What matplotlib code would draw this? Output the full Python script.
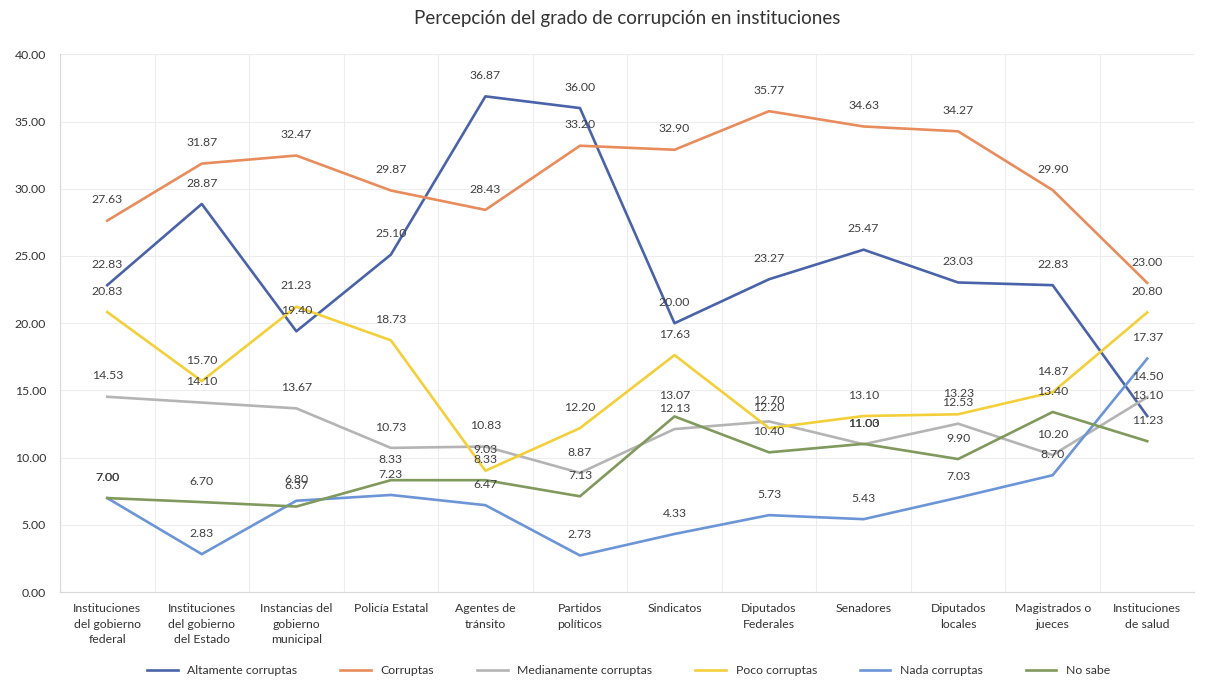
import numpy as np
import matplotlib
matplotlib.use("Agg")
from matplotlib import pyplot as plt

plt.rcParams['font.family'] = ['Lato', 'DejaVu Sans']

categorias = ["Instituciones\ndel gobierno\nfederal", "Instituciones\ndel gobierno\ndel Estado",
              "Instancias del\ngobierno\nmunicipal", "Policía Estatal", "Agentes de\ntránsito",
              "Partidos\npolíticos", "Sindicatos", "Diputados\nFederales", "Senadores",
              "Diputados\nlocales", "Magistrados o\njueces", "Instituciones\nde salud"]

altamente = [22.83, 28.87, 19.40, 25.10, 36.87, 36.00, 20.00, 23.27, 25.47, 23.03, 22.83, 13.10]
corruptas = [27.63, 31.87, 32.47, 29.87, 28.43, 33.20, 32.90, 35.77, 34.63, 34.27, 29.90, 23.00]
medianamente = [14.53, 14.10, 13.67, 10.73, 10.83, 8.87, 12.13, 12.70, 11.00, 12.53, 10.20, 14.50]
poco = [20.83, 15.70, 21.23, 18.73, 9.03, 12.20, 17.63, 12.20, 13.10, 13.23, 14.87, 20.80]
nada = [7.00, 2.83, 6.80, 7.23, 6.47, 2.73, 4.33, 5.73, 5.43, 7.03, 8.70, 17.37]
no_sabe = [7.00, 6.70, 6.37, 8.33, 8.33, 7.13, 13.07, 10.40, 11.03, 9.90, 13.40, 11.23]

series = [("Altamente corruptas", altamente, "#4a63a8"),
          ("Corruptas", corruptas, "#e88c5c"),
          ("Medianamente corruptas", medianamente, "#b4b4b4"),
          ("Poco corruptas", poco, "#f3cf3a"),
          ("Nada corruptas", nada, "#6b95d6"),
          ("No sabe", no_sabe, "#80995c")]

fig = plt.figure(figsize=(12.09, 6.87), dpi=100)
ax = fig.add_axes([0.0496, 0.138, 0.9384, 0.783])

x = np.arange(len(categorias))
for nom, valeurs, couleur in series:
    ax.plot(x, valeurs, color=couleur, linewidth=1.9, label=nom, zorder=3)
    # etiquettes au-dessus de chaque point
    for xi, v in zip(x, valeurs):
        ax.annotate(f"{v:.2f}", (xi, v), xytext=(0, 15), textcoords="offset points",
                    ha="center", va="center", fontsize=8.8, color="#404040", zorder=4)

ax.set_xlim(-0.5, len(categorias) - 0.5)
ax.set_ylim(0, 40)
ax.set_yticks(np.arange(0, 41, 5))
ax.set_yticklabels([f"{t:.2f}" for t in np.arange(0, 41, 5)], fontsize=8.8, color="#333333")
ax.set_xticks(x)
ax.set_xticklabels(categorias, fontsize=8.8, color="#333333", linespacing=1.5)
ax.set_xticks(np.arange(-0.5, len(categorias), 1), minor=True)
ax.tick_params(axis="both", which="both", length=0)
ax.tick_params(axis="y", pad=10)
ax.tick_params(axis="x", pad=8)
ax.grid(True, axis="y", color="#ededed", linewidth=0.8, zorder=0)
ax.grid(True, axis="x", which="minor", color="#ededed", linewidth=0.8, zorder=0)
for cote in ["top", "right"]:
    ax.spines[cote].set_visible(False)
ax.spines["left"].set_color("#d8d8d8")
ax.spines["bottom"].set_color("#d8d8d8")

ax.set_title("Percepción del grado de corrupción en instituciones", fontsize=13.5,
             color="#333333", pad=22)

fig.legend(loc="lower center", bbox_to_anchor=(0.52, 0.0), ncol=6, frameon=False,
           fontsize=8.8, handlelength=2.5, columnspacing=3.5, labelcolor="#333333")

plt.savefig("out.png", dpi=100)
